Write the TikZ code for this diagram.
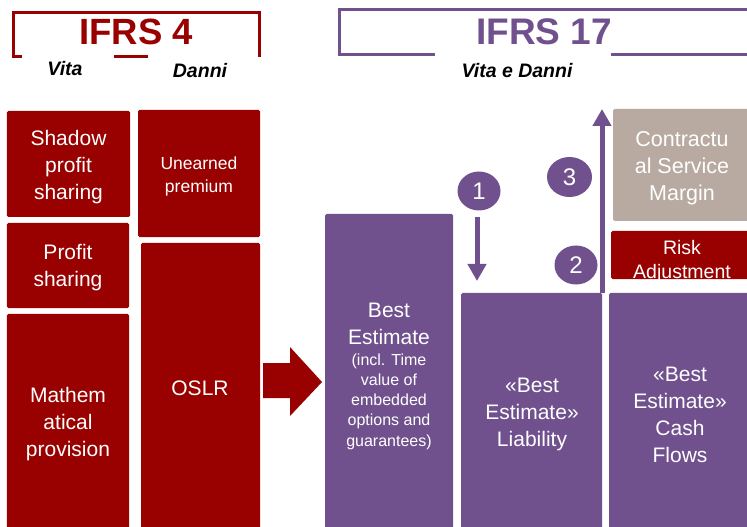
\documentclass[tikz,border=0pt]{standalone}
\usepackage{fontspec}
\setmainfont{Liberation Sans}
\usetikzlibrary{arrows.meta,shapes.geometric}
\definecolor{ifrsred}{RGB}{153,0,0}
\definecolor{ifrspurple}{RGB}{112,81,141}
\definecolor{csmgrey}{RGB}{184,170,160}
\newcommand{\fsz}[2]{\fontsize{#1bp}{#2bp}\selectfont}
\begin{document}
\begin{tikzpicture}[x=1bp,y=-1bp,
  panel/.style={rounded corners=1.5bp, inner sep=0pt, outer sep=0pt},
  redpanel/.style={panel, fill=ifrsred},
  purplepanel/.style={panel, fill=ifrspurple},
  greypanel/.style={panel, fill=csmgrey},
  paneltext/.style={text=white, align=center, inner sep=0pt, yshift=-2bp},
  header/.style={font=\fsz{36.5}{40}\bfseries, inner sep=0pt, anchor=base},
  subhead/.style={font=\fsz{19.5}{22}\bfseries\itshape, inner sep=0pt, anchor=base},
  bracket/.style={line width=3bp},
  stepmark/.style={ellipse, fill=ifrspurple, minimum width=43bp, minimum height=39bp,
    inner sep=0pt, text=white, font=\fsz{24}{28}},
  movearrow/.style={draw=ifrspurple, line width=5bp,
    -{Triangle[width=18bp,length=17bp]}}
]
\useasboundingbox (0,0) rectangle (747,527);
\clip (0,0) rectangle (747,527);

% IFRS 4 heading and its bracket
\draw[bracket, ifrsred] (22,57) -- (13,57) -- (13,13) -- (259,13) -- (259,57);
\draw[bracket, ifrsred] (114,57) -- (148,57);
\node[header, text=ifrsred] (ifrs4) at (136,45) {IFRS 4};
\node[subhead] (vita) at (65,76) {Vita};
\node[subhead] (danni) at (200,78) {Danni};

% IFRS 17 heading and its bracket
\draw[bracket, ifrspurple] (435,55) -- (339,55) -- (339,10) -- (750,10);
\draw[bracket, ifrspurple] (611,55) -- (750,55);
\node[header, text=ifrspurple, font=\fsz{37}{40}\bfseries] (ifrs17) at (544,45) {IFRS 17};
\node[subhead] (vitadanni) at (517,78) {Vita e Danni};

% IFRS 4 blocks: life
\node[redpanel, minimum width=123bp, minimum height=106bp] (shadow) at (68.5,164) {};
\node[paneltext, font=\fsz{21}{27}] (shadowtxt) at (68.5,165) {Shadow\\profit\\sharing};
\node[redpanel, minimum width=122bp, minimum height=85bp] (profit) at (68,265.5) {};
\node[paneltext, font=\fsz{21}{27}] (profittxt) at (68,266) {Profit\\sharing};
\node[redpanel, minimum width=122bp, minimum height=226bp] (math) at (68,427) {};
\node[paneltext, font=\fsz{21}{27}] (mathtxt) at (68,422) {Mathem\\atical\\provision};

% IFRS 4 blocks: non-life
\node[redpanel, minimum width=122bp, minimum height=127bp] (unearned) at (199,173.5) {};
\node[paneltext, font=\fsz{17.5}{23}] (unearnedtxt) at (199,174) {Unearned\\premium};
\node[redpanel, minimum width=119bp, minimum height=297bp] (oslr) at (200.5,391.5) {};
\node[paneltext, font=\fsz{21}{27}] (oslrtxt) at (200,386) {OSLR};

% transition arrow
\fill[ifrsred] (263,363) -- (290,363) -- (290,347) -- (322,382) -- (290,416) -- (290,398) -- (263,398) -- cycle;

% IFRS 17 blocks
\node[purplepanel, minimum width=128bp, minimum height=323bp] (best) at (389,375.5) {};
\node[paneltext, font=\fsz{21}{27}] (besttxt) at (389,321.5) {Best\\Estimate};
\node[paneltext, font=\fsz{16}{20.2}] (bestnote) at (389,399.5) {(incl. Time\\value of\\embedded\\options and\\guarantees)};

\node[purplepanel, minimum width=141bp, minimum height=244bp] (liab) at (531.5,415) {};
\node[paneltext, font=\fsz{21}{27}] (liabtxt) at (532,412) {«Best\\Estimate»\\Liability};

\node[purplepanel, minimum width=145bp, minimum height=244bp] (cash) at (681.5,415) {};
\node[paneltext, font=\fsz{21}{27}] (cashtxt) at (680,412.5) {«Best\\Estimate»\\Cash\\Flows};

\node[redpanel, minimum width=140bp, minimum height=48bp] (risk) at (681,255) {};
\node[paneltext, font=\fsz{19.5}{24}, yshift=1bp] (risktxt) at (682,260) {Risk\\Adjustment};

\node[greypanel, minimum width=138bp, minimum height=112bp] (csm) at (682,165) {};
\node[paneltext, font=\fsz{21.5}{27}] (csmtxt) at (682,166) {Contractu\\al Service\\Margin};

% numbered steps
\node[stepmark] (s1) at (479,191) {1};
\node[stepmark] (s2) at (576,265) {2};
\node[stepmark, minimum width=45bp, minimum height=40bp] (s3) at (569.5,177) {3};

\coordinate (d1top) at (477,217);
\coordinate (d1end) at (477,281);
\coordinate (upstart) at (602,293);
\coordinate (upend) at (602,109);
\draw[movearrow] (d1top) -- (d1end);
\draw[movearrow] (upstart) -- (upend);
\end{tikzpicture}
\end{document}
